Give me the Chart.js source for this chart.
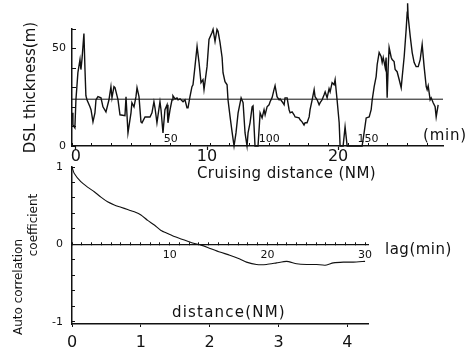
<!DOCTYPE html>
<html>
<head>
<meta charset="utf-8">
<script src="https://cdn.jsdelivr.net/npm/chart.js@4/dist/chart.umd.min.js"></script>
<style>
  html, body { margin: 0; padding: 0; background: #fff; }
  #wrap { position: relative; width: 469px; height: 350px; overflow: hidden; font-family: "DejaVu Sans", sans-serif; color: #111; }
  #wrap canvas { position: absolute; left: 0; top: 0; }
  .lbl { position: absolute; white-space: nowrap; line-height: 1; }
  .rot { transform: translate(-50%, -50%) rotate(-90deg); }
</style>
</head>
<body>
<div id="wrap">
  <canvas id="dsl" width="469" height="350"></canvas>
  <canvas id="acf" width="469" height="350"></canvas>
  <span class="lbl" style="left:197px;top:166px;font-size:15px;letter-spacing:0.4px">Cruising distance (NM)</span>
  <span class="lbl" style="left:423px;top:128px;font-size:15px;letter-spacing:0.8px">(min)</span>
  <span class="lbl" style="left:385px;top:242px;font-size:15px;letter-spacing:0.5px">lag(min)</span>
  <span class="lbl" style="left:172px;top:305px;font-size:15px;letter-spacing:1.2px">distance(NM)</span>
  <span class="lbl rot" style="left:18px;top:287px;font-size:12px">Auto correlation</span>
  <span class="lbl rot" style="left:33px;top:225px;font-size:12px">coefficient</span>
</div>
<script>
// ── Datos ────────────────────────────────────────────────
const distNM = [-0.25,-0.23,-0.08,0,0.15,0.31,0.38,0.46,0.61,0.69,
  0.76,0.84,1.07,1.15,1.30,1.45,1.53,1.68,1.91,2.06,
  2.29,2.52,2.67,2.75,2.90,2.98,3.21,3.36,3.74,3.82,
  3.97,4.20,4.27,4.43,4.58,4.66,4.81,4.96,5.04,5.27,
  5.65,5.80,5.95,6.03,6.18,6.41,6.49,6.64,6.79,6.95,
  7.02,7.18,7.33,7.40,7.56,7.71,7.79,7.94,8.17,8.32,
  8.47,8.55,8.70,8.85,8.93,9.08,9.24,9.39,9.54,9.69,
  9.77,10.0,10.15,10.38,10.46,10.61,10.76,10.84,10.99,11.15,
  11.22,11.37,11.53,11.60,11.76,11.91,12.06,12.21,12.37,12.60,
  12.75,12.90,13.05,13.13,13.28,13.44,13.51,13.66,13.89,14.05,
  14.20,14.35,14.43,14.58,14.73,14.81,14.96,15.11,15.19,15.34,
  15.50,15.57,15.73,15.88,15.95,16.11,16.26,16.34,16.49,16.64,
  16.72,17.02,17.10,17.25,17.40,17.48,17.63,17.79,17.86,18.02,
  18.17,18.24,18.40,18.55,18.63,18.78,18.93,19.01,19.16,19.31,
  19.39,19.54,19.69,19.77,19.92,20.08,20.15,20.38,20.53,20.69,
  21.83,21.98,22.14,22.37,22.52,22.60,22.75,22.90,22.98,23.13,
  23.28,23.36,23.44,23.59,23.66,23.74,23.82,23.89,24.05,24.12,
  24.27,24.35,24.50,24.66,24.81,24.89,25.04,25.19,25.27,25.30,
  25.34,25.50,25.65,25.80,25.95,26.11,26.26,26.41,26.56,26.72,
  26.79,26.87,27.02,27.10,27.25,27.40,27.48,27.63];

const thickness = [17.0,10.8,9.3,23.7,37.6,44.3,39.2,44.3,57.7,39.2,
  25.8,23.7,20.1,18.6,12.4,17.0,23.7,25.3,24.7,20.1,
  17.5,23.7,30.4,24.7,30.4,29.9,23.7,16.0,15.5,25.3,
  6.7,17.0,22.2,20.1,25.3,29.9,25.3,12.4,11.9,14.9,
  14.9,17.0,22.7,19.6,11.9,22.7,18.6,6.7,18.6,21.1,
  11.9,18.6,23.7,25.8,24.2,24.7,23.7,24.2,22.7,23.7,
  19.6,19.6,25.3,30.4,31.4,40.7,51.0,42.8,32.5,34.0,
  28.9,40.7,54.6,58.2,59.8,53.6,59.8,58.8,53.1,45.4,
  37.6,33.0,31.4,23.7,14.9,7.2,0,6.7,17.0,24.7,
  22.2,6.7,0,6.7,11.9,20.1,20.6,0,0,17.0,
  14.4,18.6,16.0,20.1,21.1,22.7,24.7,28.9,30.9,25.3,
  23.7,24.2,22.7,21.1,24.7,24.7,18.6,17.0,17.5,16.0,
  14.9,14.4,13.4,12.4,10.8,11.9,11.9,14.9,18.6,23.7,
  28.9,25.3,23.7,21.1,22.2,23.7,26.3,27.8,24.7,29.4,
  27.8,32.5,31.4,34.0,23.7,11.9,0,0,9.8,0,
  0,6.7,14.4,14.9,18.6,23.7,30.4,35.6,41.8,47.9,
  45.9,42.8,45.4,40.2,45.4,24.7,40.7,50.5,45.4,44.3,
  43.3,39.2,38.1,34.0,29.9,35.6,45.9,59.8,68.6,73.2,
  66.5,56.2,47.9,42.8,40.7,40.7,44.3,52.1,40.7,30.4,
  28.9,30.9,23.7,24.7,22.2,20.1,14.9,21.1];

const meanThickness = 24;

const lagMin = [0,0.22,0.9,1.59,2.28,2.96,3.64,4.33,5.01,5.69,
  6.38,7.06,7.74,8.43,9.11,9.79,10.47,11.16,11.84,12.53,
  13.21,13.89,15.13,16.15,17.18,17.86,18.89,19.91,20.94,21.97,
  22.99,24.02,25.04,25.9,26.75,27.78,28.8,30.0];
const autoCorr = [1.0,0.92,0.81,0.74,0.68,0.61,0.55,0.51,0.48,0.45,
  0.42,0.38,0.31,0.25,0.18,0.14,0.10,0.07,0.04,0.01,
  -0.01,-0.04,-0.10,-0.14,-0.19,-0.23,-0.26,-0.26,-0.24,-0.22,
  -0.25,-0.26,-0.26,-0.27,-0.24,-0.23,-0.23,-0.22];

// ticks
const nmTicks = [0, 10, 20];
const minuteTicks = [0,10,20,30,40,50,60,70,80,90,100,110,120,130,140,150,160,170,180];
const minuteLabels = [50, 100, 150];
const thickTicks = [0, 10, 20, 30, 40, 50, 60];
const thickLabels = [0, 50];
const lagTicks = [0,1,2,3,4,5,6,7,8,9,10,11,12,13,14,15,16,17,18,19,20,21,22,23,24,25,26,27,28,29,30];
const lagLabels = [10, 20, 30];
const corrTicks = [-1,-0.8,-0.6,-0.4,-0.2,0,0.2,0.4,0.6,0.8,1];
const corrLabels = [-1, 0, 1];
const distTicks = [0, 1, 2, 3, 4];

// ── Helpers ───────────────────────────────────────────────
const INK = '#111';
const font = size => ({ family: 'DejaVu Sans', size: size });
const fijarTicks = lista => s => { s.ticks = lista.map(v => ({ value: v })); };
const soloEtiquetas = lista => v => lista.some(l => Math.abs(l - v) < 1e-6) ? String(v) : '';
const toXY = (xs, ys) => xs.map((x, i) => ({ x: x, y: ys[i] }));

Chart.defaults.animation = false;
Chart.defaults.color = INK;
Chart.defaults.plugins.legend.display = false;
Chart.defaults.plugins.tooltip.enabled = false;

// ── Grafica superior: espesor DSL ─────────────────────────
new Chart(document.getElementById('dsl'), {
  type: 'line',
  data: {
    datasets: [{
      data: toXY(distNM, thickness),
      borderColor: INK, borderWidth: 1.4, pointRadius: 0, tension: 0, clip: false
    }, {
      data: toXY([-0.3, 28], [meanThickness, meanThickness]),
      borderColor: INK, borderWidth: 1, pointRadius: 0
    }]
  },
  options: {
    responsive: false,
    layout: { padding: { left: 4, right: 26, top: 29, bottom: 164 } },
    scales: {
      x: {
        type: 'linear', position: 'bottom', min: -0.3, max: 28,
        afterBuildTicks: fijarTicks(nmTicks),
        afterFit: s => { s.height = 40; },
        ticks: { autoSkip: false, maxRotation: 0, padding: -3, font: font(16), color: INK },
        grid: { drawOnChartArea: false, tickLength: 4, color: INK, tickWidth: 1.2 },
        border: { display: true, color: INK, width: 1.5 }
      },
      xMin: {
        type: 'linear', axis: 'x', position: { y: 0 }, min: 0, max: 188,
        afterBuildTicks: fijarTicks(minuteTicks),
        ticks: { autoSkip: false, maxRotation: 0, padding: -10, font: font(11), color: INK,
                 callback: soloEtiquetas(minuteLabels) },
        grid: { drawOnChartArea: false, tickLength: -3, color: INK },
        border: { display: false }
      },
      y: {
        type: 'linear', position: 'left', min: 0, max: 60,
        afterBuildTicks: fijarTicks(thickTicks),
        afterFit: s => { s.width = 68; },
        ticks: { autoSkip: false, padding: 10, font: font(11), color: INK, callback: soloEtiquetas(thickLabels) },
        grid: { drawOnChartArea: false, tickLength: -4, color: INK },
        border: { display: true, color: INK, width: 1.5 },
        title: { display: true, text: 'DSL thickness(m)', font: font(15), color: INK, padding: { top: 18, bottom: 0 } }
      }
    }
  }
});

// ── Grafica inferior: autocorrelacion ─────────────────────
new Chart(document.getElementById('acf'), {
  type: 'line',
  data: {
    datasets: [{
      data: toXY(lagMin, autoCorr),
      xAxisID: 'xLag',
      borderColor: INK, borderWidth: 1.1, pointRadius: 0, tension: 0.2, clip: false
    }]
  },
  options: {
    responsive: false,
    layout: { padding: { left: 0, right: 101, top: 167, bottom: 0 } },
    scales: {
      xDist: {
        type: 'linear', axis: 'x', position: 'bottom', min: 0, max: 4.3,
        afterBuildTicks: fijarTicks(distTicks),
        afterFit: s => { s.height = 26; },
        ticks: { autoSkip: false, maxRotation: 0, padding: 6, font: font(16), color: INK },
        grid: { drawOnChartArea: false, tickLength: 3, color: INK },
        border: { display: true, color: INK, width: 1.5 }
      },
      xLag: {
        type: 'linear', axis: 'x', position: { y: 0 }, min: 0, max: 30.3,
        afterBuildTicks: fijarTicks(lagTicks),
        ticks: { autoSkip: false, maxRotation: 0, padding: 7, font: font(11), color: INK,
                 callback: soloEtiquetas(lagLabels) },
        grid: { drawOnChartArea: false, tickLength: -3, color: INK },
        border: { display: true, color: INK, width: 1.3 }
      },
      y: {
        type: 'linear', position: 'left', min: -1.03, max: 1,
        afterBuildTicks: fijarTicks(corrTicks),
        afterFit: s => { s.width = 72; },
        ticks: { autoSkip: false, padding: 12, font: font(11), color: INK, callback: soloEtiquetas(corrLabels) },
        grid: { drawOnChartArea: false, tickLength: -3, color: INK },
        border: { display: true, color: INK, width: 1.5 }
      }
    }
  }
});
</script>
</body>
</html>
